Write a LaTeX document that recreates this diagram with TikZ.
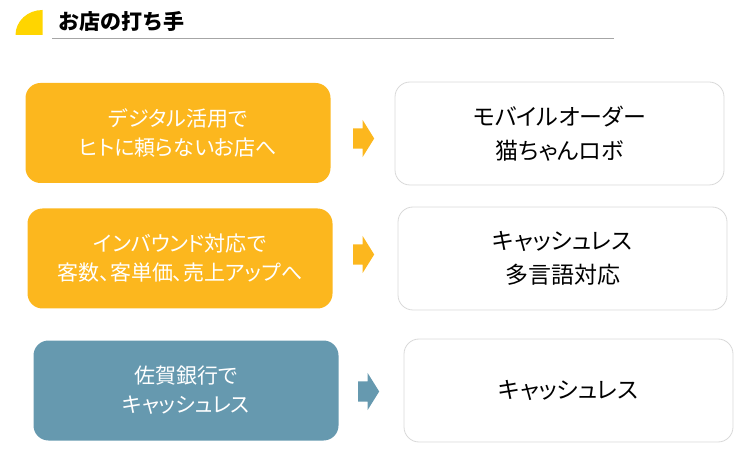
\documentclass[tikz,border=0pt]{standalone}
\usepackage{fontspec}
\setmainfont{Noto Sans CJK JP}[CharacterWidth=AlternateProportional]
\newfontfamily\titlefont{Noto Sans CJK JP}
\usepackage{xcolor}
\usetikzlibrary{shapes.arrows}
\definecolor{shoporange}{HTML}{FCB71E}
\definecolor{bankblue}{HTML}{6699AF}
\definecolor{markyellow}{HTML}{FFD500}
\definecolor{boxgray}{HTML}{D9D9D9}
\definecolor{rulegray}{HTML}{A6A6A6}
\tikzset{
  leftbox/.style={rounded corners=15pt,minimum width=305pt,minimum height=100pt,
    inner sep=0pt,text=white,align=center,font=\fontsize{21}{29}\selectfont},
  rightbox/.style={draw=boxgray,line width=0.8pt,fill=white,rounded corners=15pt,
    minimum width=329pt,minimum height=103pt,inner sep=0pt,align=center,
    font=\fontsize{23}{34}\selectfont},
  blockarrow/.style={single arrow,anchor=tail,inner xsep=0pt,inner ysep=10pt,
    single arrow head extend=8.5pt,single arrow tip angle=116,minimum height=21pt}
}
\begin{document}
\begin{tikzpicture}[x=1pt,y=-1pt]
\useasboundingbox (0,0) rectangle (747,462);
% title
\fill[markyellow] (42.5,35) -- (15.5,35) arc[start angle=180,end angle=270,x radius=27,y radius=25] -- cycle;
\node[anchor=west,font=\titlefont\bfseries\fontsize{21}{21}\selectfont] (title) at (55,21) {お店の打ち手};
\draw[rulegray,line width=1pt] (52,39) -- (614,39);
% boxes
\node[leftbox,fill=shoporange] (l1) at (178,133) {デジタル活用で\\ヒトに頼らないお店へ};
\node[leftbox,fill=shoporange] (l2) at (180,258.5) {インバウンド対応で\\客数、客単価、売上アップへ};
\node[leftbox,fill=bankblue] (l3) at (186,390.5) {佐賀銀行で\\キャッシュレス};
\node[rightbox] (r1) at (559.5,133.5) {モバイルオーダー\\猫ちゃんロボ};
\node[rightbox] (r2) at (562.5,258.5) {キャッシュレス\\多言語対応};
\node[rightbox] (r3) at (568.5,390.5) {キャッシュレス};
% arrows
\node[blockarrow,fill=shoporange] (a1) at (353,138.5) {};
\node[blockarrow,fill=shoporange] (a2) at (353,254.5) {};
\node[blockarrow,fill=bankblue] (a3) at (358,391.5) {};
\end{tikzpicture}
\end{document}
